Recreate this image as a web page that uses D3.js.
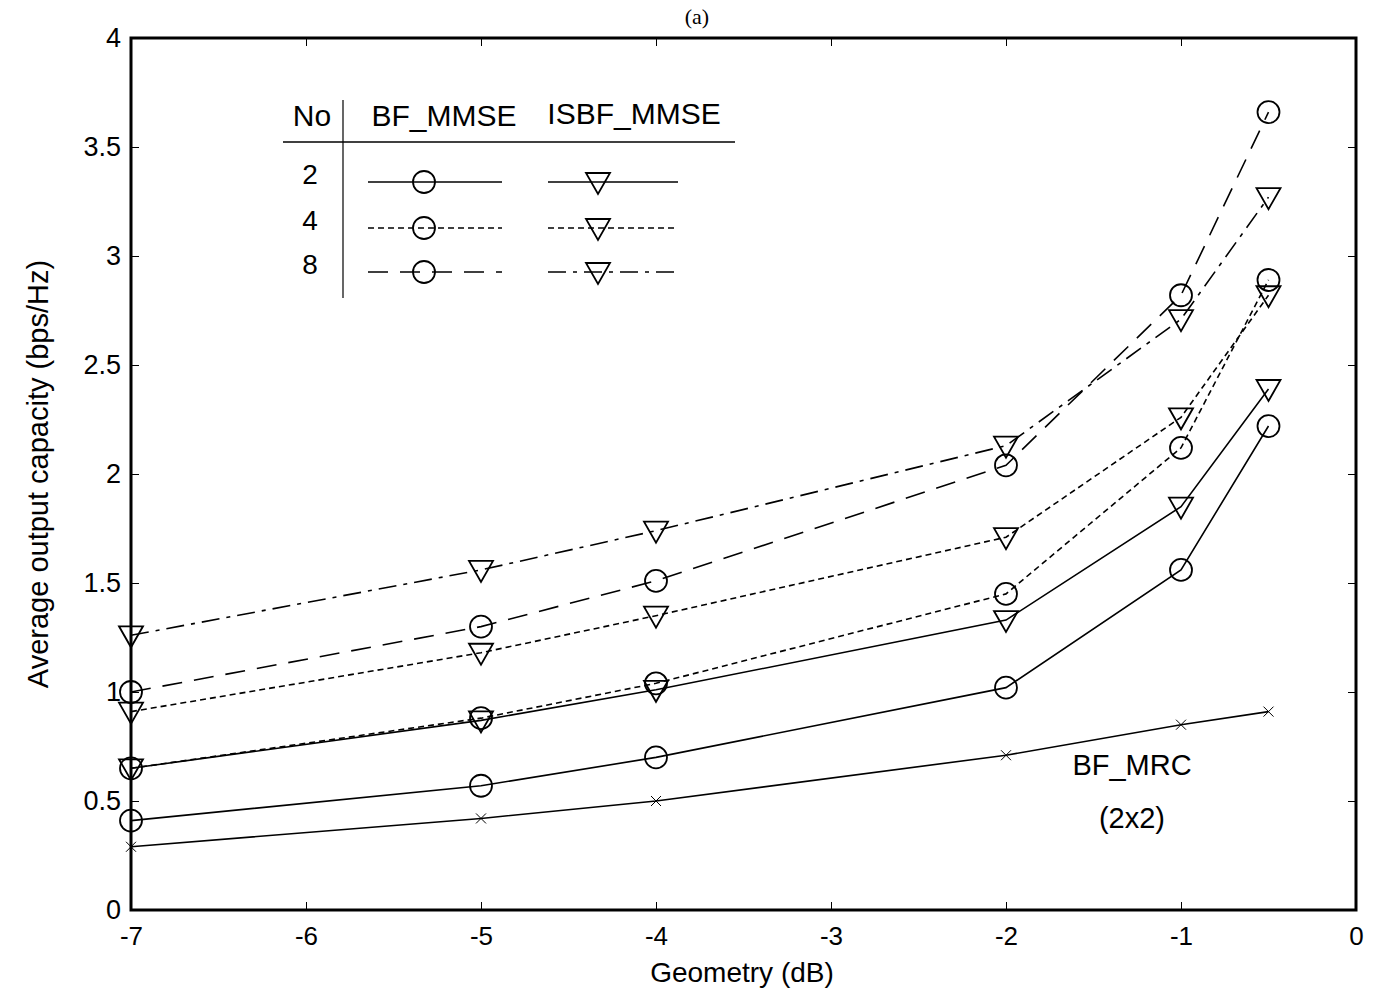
<!DOCTYPE html>
<html>
<head>
<meta charset="utf-8">
<script src="https://cdn.jsdelivr.net/npm/d3@7"></script>
<style>
  body { margin: 0; background: #fff; }
  svg { display: block; }
  text { font-family: "Liberation Sans", Arial, sans-serif; fill: #000; }
</style>
</head>
<body>
<div id="chart"></div>
<script>
var width = 1394, height = 991;
var margin = { top: 38, right: 38, bottom: 81, left: 131 };

// geometry values (dB) on the x axis
var geometry = [-7, -5, -4, -2, -1, -0.5];
var xTicks = [-7, -6, -5, -4, -3, -2, -1, 0];
var yTicks = [0, 0.5, 1, 1.5, 2, 2.5, 3, 3.5, 4];

// capacity (bps/Hz)
var bfMrc = [0.29, 0.42, 0.50, 0.71, 0.85, 0.91];
var bfMmse2 = [0.41, 0.57, 0.70, 1.02, 1.56, 2.22];
var bfMmse4 = [0.65, 0.88, 1.04, 1.45, 2.12, 2.89];
var bfMmse8 = [1.00, 1.30, 1.51, 2.04, 2.82, 3.66];
var isbfMmse2 = [0.65, 0.87, 1.01, 1.33, 1.85, 2.39];
var isbfMmse4 = [0.91, 1.18, 1.35, 1.71, 2.26, 2.82];
var isbfMmse8 = [1.26, 1.56, 1.74, 2.13, 2.71, 3.27];

var dashes = { 2: null, 4: "6,4", 8: "20,12" };
var dashesTri = { 2: null, 4: "6,4", 8: "18,7,4,7" };

var series = [
  { values: bfMrc, marker: "x", dash: null },
  { values: bfMmse2, marker: "o", dash: dashes[2] },
  { values: isbfMmse2, marker: "v", dash: dashesTri[2] },
  { values: bfMmse4, marker: "o", dash: dashes[4] },
  { values: isbfMmse4, marker: "v", dash: dashesTri[4] },
  { values: bfMmse8, marker: "o", dash: dashes[8] },
  { values: isbfMmse8, marker: "v", dash: dashesTri[8] }
];

var svg = d3.select("#chart").append("svg")
  .attr("width", width).attr("height", height);

var x = d3.scaleLinear().domain([-7, 0]).range([margin.left, width - margin.right]);
var y = d3.scaleLinear().domain([0, 4]).range([height - margin.bottom, margin.top]);

// title at the very top
svg.append("text").attr("x", 697).attr("y", 24)
  .attr("text-anchor", "middle")
  .style("font-family", "'Liberation Serif', serif")
  .style("font-size", "22px").text("(a)");

var fmt = function (d) { return String(d); };

// inward ticks on all four sides
svg.append("g").attr("transform", "translate(0," + y(0) + ")")
  .call(d3.axisBottom(x).tickValues(xTicks).tickSizeInner(-8).tickSizeOuter(0).tickPadding(17).tickFormat(fmt))
  .call(function (g) { g.select(".domain").remove(); g.selectAll("text").style("font-size", "26px"); });
svg.append("g").attr("transform", "translate(0," + y(4) + ")")
  .call(d3.axisTop(x).tickValues(xTicks).tickSizeInner(-8).tickSizeOuter(0).tickFormat(""))
  .call(function (g) { g.select(".domain").remove(); });
svg.append("g").attr("transform", "translate(" + x(-7) + ",0)")
  .call(d3.axisLeft(y).tickValues(yTicks).tickSizeInner(-8).tickSizeOuter(0).tickPadding(10).tickFormat(fmt))
  .call(function (g) { g.select(".domain").remove(); g.selectAll("text").style("font-size", "27px"); });
svg.append("g").attr("transform", "translate(" + x(0) + ",0)")
  .call(d3.axisRight(y).tickValues(yTicks).tickSizeInner(-8).tickSizeOuter(0).tickFormat(""))
  .call(function (g) { g.select(".domain").remove(); });

svg.selectAll(".tick line").attr("stroke", "#000").attr("stroke-width", 1);

var line = d3.line()
  .x(function (d, i) { return x(geometry[i]); })
  .y(function (d) { return y(d); });

function drawMarker(g, type, cx, cy) {
  if (type === "o") {
    g.append("circle").attr("cx", cx).attr("cy", cy).attr("r", 11)
      .attr("fill", "none").attr("stroke", "#000").attr("stroke-width", 1.8);
  } else if (type === "v") {
    g.append("path")
      .attr("d", "M" + (cx - 12) + "," + (cy - 9) + "L" + (cx + 12) + "," + (cy - 9) + "L" + cx + "," + (cy + 12) + "Z")
      .attr("fill", "none").attr("stroke", "#000").attr("stroke-width", 1.8);
  } else {
    g.append("path")
      .attr("d", "M" + (cx - 5) + "," + (cy - 5) + "L" + (cx + 5) + "," + (cy + 5) + "M" + (cx - 5) + "," + (cy + 5) + "L" + (cx + 5) + "," + (cy - 5))
      .attr("stroke", "#000").attr("stroke-width", 1);
  }
}

var plot = svg.append("g");
series.forEach(function (s) {
  plot.append("path").datum(s.values)
    .attr("d", line)
    .attr("fill", "none").attr("stroke", "#000").attr("stroke-width", 1.6)
    .attr("stroke-dasharray", s.dash);
  s.values.forEach(function (v, i) {
    drawMarker(plot, s.marker, x(geometry[i]), y(v));
  });
});

// frame
svg.append("rect")
  .attr("x", x(-7)).attr("y", y(4))
  .attr("width", x(0) - x(-7)).attr("height", y(0) - y(4))
  .attr("fill", "none").attr("stroke", "#000").attr("stroke-width", 3);

// axis labels
svg.append("text").attr("x", 742).attr("y", 982).attr("text-anchor", "middle")
  .style("font-size", "28px").text("Geometry (dB)");
svg.append("text").attr("transform", "translate(48,474) rotate(-90)").attr("text-anchor", "middle")
  .style("font-size", "29px").text("Average output capacity (bps/Hz)");

// in-plot annotation
svg.append("text").attr("x", 1132).attr("y", 775).attr("text-anchor", "middle")
  .style("font-size", "29px").text("BF_MRC");
svg.append("text").attr("x", 1132).attr("y", 828).attr("text-anchor", "middle")
  .style("font-size", "29px").text("(2x2)");

// legend table
var legendRows = [2, 4, 8];
var rowY = [182, 228, 272];
var lg = svg.append("g");
lg.append("text").attr("x", 312).attr("y", 126).attr("text-anchor", "middle").style("font-size", "30px").text("No");
lg.append("text").attr("x", 444).attr("y", 126).attr("text-anchor", "middle").style("font-size", "30px").text("BF_MMSE");
lg.append("text").attr("x", 634).attr("y", 124).attr("text-anchor", "middle").style("font-size", "30px").text("ISBF_MMSE");
lg.append("line").attr("x1", 283).attr("x2", 735).attr("y1", 142).attr("y2", 142).attr("stroke", "#000").attr("stroke-width", 1.5);
lg.append("line").attr("x1", 343).attr("x2", 343).attr("y1", 100).attr("y2", 298).attr("stroke", "#000").attr("stroke-width", 1.2);
legendRows.forEach(function (n, i) {
  lg.append("text").attr("x", 310).attr("y", rowY[i] + 2).attr("text-anchor", "middle").style("font-size", "28px").text(n);
  lg.append("line").attr("x1", 368).attr("x2", 502).attr("y1", rowY[i]).attr("y2", rowY[i])
    .attr("stroke", "#000").attr("stroke-width", 1.6).attr("stroke-dasharray", dashes[n]);
  drawMarker(lg, "o", 424, rowY[i]);
  lg.append("line").attr("x1", 548).attr("x2", 678).attr("y1", rowY[i]).attr("y2", rowY[i])
    .attr("stroke", "#000").attr("stroke-width", 1.6).attr("stroke-dasharray", dashesTri[n]);
  drawMarker(lg, "v", 598, rowY[i]);
});
</script>
</body>
</html>
